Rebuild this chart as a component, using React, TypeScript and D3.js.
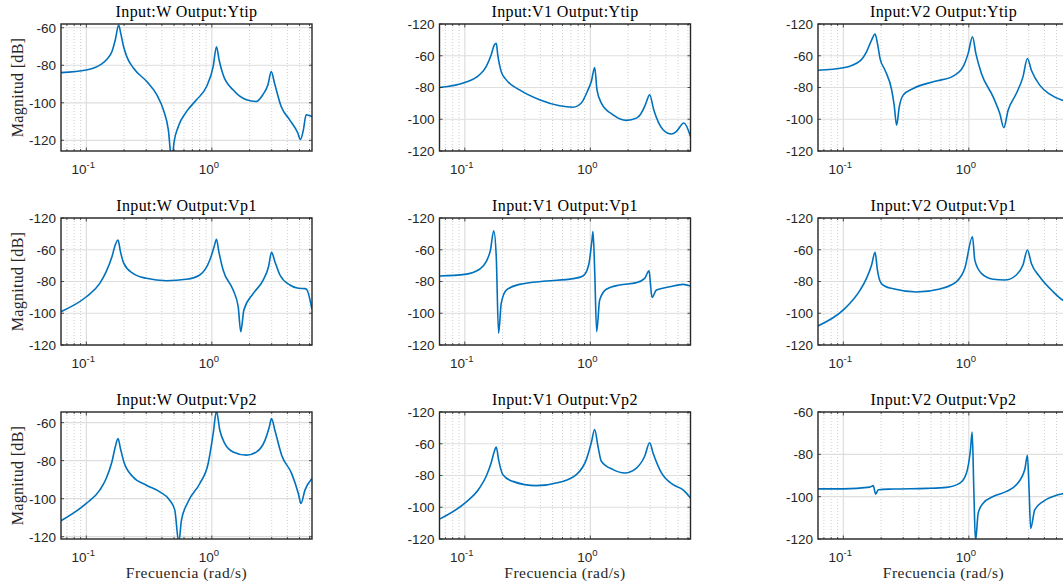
import React from 'react';
import * as d3 from 'd3';

type Pt = [number, number];

// ---- data: [frequency (rad/s), magnitude (dB)] ----
const wYtip: Pt[] = [
  [0.0628, -83.9], [0.1, -82.5], [0.129, -79.8], [0.146, -76.8], [0.16, -72.7], [0.17, -66.5],
  [0.181, -58.6], [0.188, -63], [0.198, -70], [0.21, -75.4], [0.238, -81.6], [0.303, -88.7],
  [0.364, -95.7], [0.411, -103.7], [0.45, -114.3], [0.481, -132], [0.499, -121.4], [0.541, -112.6],
  [0.63, -104.6], [0.755, -98.4], [0.908, -91.3], [1.025, -80.7], [1.089, -70.1], [1.143, -77.2],
  [1.23, -85.1], [1.476, -93.1], [1.884, -98.4], [2.26, -99.3], [2.55, -95.7], [2.8, -90.4],
  [2.975, -83.4], [3.16, -89.6], [3.57, -102], [4.16, -109], [4.84, -116.1], [5.08, -119.6],
  [5.37, -114.3], [5.64, -106.4], [6.28, -107.3],
];
const v1Ytip: Pt[] = [
  [0.0628, -80], [0.1, -76.9], [0.131, -72], [0.148, -66.8], [0.162, -59.5], [0.172, -53.2],
  [0.178, -52.1], [0.183, -59.5], [0.195, -70], [0.214, -75.2], [0.273, -81.5], [0.394, -87.7],
  [0.569, -91.5], [0.728, -92.4], [0.847, -89.8], [0.958, -81.5], [1.02, -76], [1.083, -67.4],
  [1.13, -81.5], [1.224, -89.8], [1.518, -97.2], [1.936, -100.7], [2.33, -99.3], [2.71, -91.9],
  [2.8, -89], [2.97, -84.6], [3.2, -94], [3.8, -106.6], [4.43, -109.3], [4.85, -107.7],
  [5.56, -102.4], [6.28, -110.8],
];
const v2Ytip: Pt[] = [
  [0.0628, -69.1], [0.1, -67.6], [0.136, -63.2], [0.153, -57.5], [0.168, -50.1], [0.179, -46.3],
  [0.187, -52.2], [0.196, -61.7], [0.215, -69.1], [0.243, -81.7], [0.254, -91], [0.266, -103.8],
  [0.279, -92.2], [0.3, -84.8], [0.361, -80.6], [0.52, -76.4], [0.75, -72.8], [0.901, -66.9],
  [0.988, -58.5], [1.07, -48], [1.137, -58.5], [1.26, -71.2], [1.562, -85.9], [1.765, -96.4],
  [1.9, -105.3], [2.056, -94.3], [2.39, -83.8], [2.7, -73.3], [2.93, -61.7], [3.15, -69.1],
  [3.67, -78.5], [4.41, -84.2], [5.56, -88], [6.28, -89],
];
const wVp1: Pt[] = [
  [0.0628, -99], [0.1, -89.6], [0.128, -81.2], [0.144, -73.8], [0.16, -64.4], [0.17, -57],
  [0.179, -53.9], [0.187, -61.2], [0.199, -68.6], [0.235, -74.9], [0.301, -78], [0.435, -79.5],
  [0.628, -78.6], [0.802, -75.9], [0.964, -66.5], [1.044, -58], [1.089, -53.4], [1.137, -61.2],
  [1.23, -72.8], [1.479, -85.4], [1.622, -95.9], [1.7, -111.6], [1.8, -98], [2.14, -87.5],
  [2.57, -79], [2.83, -70.7], [2.99, -61.6], [3.18, -67.5], [3.49, -75.9], [4.19, -82.2],
  [4.89, -84.3], [5.52, -84.5], [5.69, -84.9], [6.28, -97.5],
];
const v1Vp1: Pt[] = [
  [0.0628, -76.5], [0.1, -75.5], [0.131, -72.3], [0.148, -67.5], [0.16, -60.2], [0.17, -48],
  [0.178, -64.4], [0.1857, -112.6], [0.195, -93.8], [0.214, -85.4], [0.273, -81.8], [0.446, -79.7],
  [0.728, -78.2], [0.874, -76.5], [0.97, -69.6], [1.031, -53.9], [1.05, -48.6], [1.083, -72.8],
  [1.123, -111.6], [1.187, -91.7], [1.342, -84.9], [1.714, -82.2], [2.33, -80.7], [2.71, -78],
  [2.94, -73.2], [3.01, -81.2], [3.1, -90], [3.36, -85.4], [4.3, -83.3], [5.48, -81.8], [6.28, -82.8],
];
const v2Vp1: Pt[] = [
  [0.0628, -108], [0.1, -97.9], [0.136, -85.4], [0.153, -78], [0.168, -69.6], [0.179, -61.6],
  [0.187, -72.8], [0.193, -78.2], [0.2, -81], [0.215, -83], [0.25, -84.6], [0.383, -86.6],
  [0.588, -84.7], [0.798, -80.1], [0.929, -71.7], [1.07, -51.8], [1.116, -66.5], [1.26, -74.9],
  [1.562, -78.6], [1.934, -79.1], [2.39, -75.9], [2.7, -69.6], [2.93, -60.2], [3.15, -68.6],
  [3.67, -77], [4.69, -86.4], [5.6, -91.7], [6.28, -93.4],
];
const wVp2: Pt[] = [
  [0.0628, -111.6], [0.1, -102.5], [0.128, -95.5], [0.144, -89.4], [0.16, -80.6], [0.17, -72.8],
  [0.179, -68.4], [0.187, -73.6], [0.199, -80.6], [0.235, -88.5], [0.301, -92.9], [0.385, -96.4],
  [0.462, -100.8], [0.507, -106], [0.545, -123], [0.573, -111.3], [0.647, -101.6], [0.802, -92],
  [0.935, -81.5], [1.025, -65.8], [1.089, -54], [1.158, -64], [1.27, -71], [1.479, -75.4],
  [1.891, -77.1], [2.27, -75.4], [2.65, -69.3], [2.87, -62.3], [2.99, -57.9], [3.18, -64],
  [3.6, -77.1], [4.33, -86.8], [4.89, -97.3], [5.13, -102.5], [5.52, -95.5], [6.28, -89.4],
];
const v1Vp2: Pt[] = [
  [0.0628, -107.5], [0.1, -97.4], [0.131, -87.9], [0.148, -80.5], [0.162, -72.1], [0.172, -64.7],
  [0.178, -62], [0.1857, -70], [0.201, -79.5], [0.241, -83.7], [0.371, -86.4], [0.569, -84.3],
  [0.773, -79.5], [0.929, -70], [1.018, -59.4], [1.083, -51], [1.15, -61.5], [1.224, -71],
  [1.518, -76.3], [1.88, -78.4], [2.33, -75.3], [2.71, -67.9], [2.97, -59.4], [3.16, -65.8],
  [3.69, -78.4], [4.57, -85.8], [5.48, -89], [5.83, -91.1], [6.28, -94.2],
];
const v2Vp2: Pt[] = [
  [0.0628, -96.3], [0.1, -96.3], [0.163, -95.5], [0.173, -94.8], [0.181, -98.8], [0.19, -96.7],
  [0.25, -96.4], [0.46, -96.1], [0.664, -95.6], [0.848, -93.6], [0.958, -88.8], [1.031, -77.7],
  [1.063, -69.5], [1.096, -96.7], [1.13, -121], [1.187, -107.8], [1.3, -103.1], [1.562, -99.9],
  [1.994, -97.5], [2.39, -94.4], [2.79, -87.2], [2.93, -80.4], [3.02, -96.7], [3.11, -115],
  [3.35, -106.2], [3.9, -102.3], [4.69, -99.9], [5.6, -98.6], [6.28, -98.3],
];

const inputNames = ['W', 'V1', 'V2'];
const outputNames = ['Ytip', 'Vp1', 'Vp2'];
// rows = outputs, cols = inputs
const seriesGrid: Pt[][][] = [
  [wYtip, v1Ytip, v2Ytip],
  [wVp1, v1Vp1, v2Vp1],
  [wVp2, v1Vp2, v2Vp2],
];

const freqDomain: [number, number] = [2 * Math.PI / 100, 2 * Math.PI];
const xMajorTicks = [0.1, 1];
const xMajorExps = ['-1', '0'];

const yTicksA = [-60, -80, -100, -120];
const yLabelsA = ['-60', '-80', '-100', '-120'];
const yTicksB = [-40, -60, -80, -100, -120];
const yLabelsB = ['-120', '-60', '-80', '-100', '-120'];

const yDomainGrid: [number, number][][] = [
  [[-125.7, -58], [-120, -40], [-120, -40]],
  [[-120, -40], [-120, -40], [-120, -40]],
  [[-121.2, -54.4], [-120, -40], [-120, -60]],
];
const yTickGrid = [
  [[yTicksA, yLabelsA], [yTicksB, yLabelsB], [yTicksB, yLabelsB]],
  [[yTicksB, yLabelsB], [yTicksB, yLabelsB], [yTicksB, yLabelsB]],
  [[yTicksA, yLabelsA], [yTicksB, yLabelsB], [yTicksA, yLabelsA]],
] as [number[], string[]][][];

// ---- layout ----
const colX = [61, 439.5, 818];
const rowY = [24, 218, 412];
const PW = 251;
const PH = 127;

const AX = '#262626';
const SERIF = '"Liberation Serif", "Times New Roman", serif';
const SANS = '"Liberation Sans", Arial, Helvetica, sans-serif';

function Panel({ r, c }: { r: number; c: number }) {
  const x0 = colX[c];
  const y0 = rowY[r];
  const data = seriesGrid[r][c];
  const [yt, yl] = yTickGrid[r][c];
  const x = d3.scaleLog().domain(freqDomain).range([x0, x0 + PW]);
  const y = d3.scaleLinear().domain(yDomainGrid[r][c]).range([y0 + PH, y0]);
  const line = d3
    .line<Pt>()
    .x((d) => x(d[0]))
    .y((d) => y(d[1]))
    .curve(d3.curveMonotoneX);
  const minor: number[] = [];
  for (let e = -2; e <= 0; e++) {
    for (let k = 2; k <= 9; k++) {
      const v = k * Math.pow(10, e);
      if (v > freqDomain[0] && v < freqDomain[1]) minor.push(v);
    }
  }
  const clipId = `clip-${r}-${c}`;
  const cx = x0 + PW / 2;
  return (
    <g>
      <defs>
        <clipPath id={clipId}>
          <rect x={x0} y={y0} width={PW} height={PH} />
        </clipPath>
      </defs>
      <rect x={x0} y={y0} width={PW} height={PH} fill="#fff" />
      {minor.map((v) => (
        <line key={'mg' + v} x1={x(v)} x2={x(v)} y1={y0} y2={y0 + PH} stroke="#c4c4c4" strokeWidth={0.8} strokeDasharray="1,2" />
      ))}
      {xMajorTicks.map((v) => (
        <line key={'Mg' + v} x1={x(v)} x2={x(v)} y1={y0} y2={y0 + PH} stroke="#dedede" strokeWidth={1.2} />
      ))}
      {yt.map((v) => (
        <line key={'yg' + v} x1={x0} x2={x0 + PW} y1={y(v)} y2={y(v)} stroke="#dedede" strokeWidth={1.2} />
      ))}
      <path d={line(data) || ''} fill="none" stroke="#0072BD" strokeWidth={1.6} clipPath={`url(#${clipId})`} strokeLinejoin="round" />
      {minor.map((v) => (
        <g key={'mt' + v}>
          <line x1={x(v)} x2={x(v)} y1={y0 + PH} y2={y0 + PH - 2} stroke={AX} strokeWidth={0.8} />
          <line x1={x(v)} x2={x(v)} y1={y0} y2={y0 + 2} stroke={AX} strokeWidth={0.8} />
        </g>
      ))}
      {xMajorTicks.map((v) => (
        <g key={'Mt' + v}>
          <line x1={x(v)} x2={x(v)} y1={y0 + PH} y2={y0 + PH - 3.5} stroke={AX} strokeWidth={0.8} />
          <line x1={x(v)} x2={x(v)} y1={y0} y2={y0 + 3.5} stroke={AX} strokeWidth={0.8} />
        </g>
      ))}
      {yt.map((v) => (
        <g key={'yt' + v}>
          <line x1={x0} x2={x0 + 3} y1={y(v)} y2={y(v)} stroke={AX} strokeWidth={0.8} />
          <line x1={x0 + PW} x2={x0 + PW - 3} y1={y(v)} y2={y(v)} stroke={AX} strokeWidth={0.8} />
        </g>
      ))}
      <rect x={x0} y={y0} width={PW} height={PH} fill="none" stroke={AX} strokeWidth={1.4} />
      {yt.map((v, i) => (
        <text key={'yl' + v} x={x0 - 5} y={y(v)} dy="0.36em" textAnchor="end" fontFamily={SANS} fontSize={13.5} fill={AX}>
          {yl[i]}
        </text>
      ))}
      {xMajorTicks.map((v, i) => (
        <text key={'xl' + v} x={x(v) - 3} y={y0 + PH + 22.5} textAnchor="middle" fontFamily={SANS} fontSize={13.5} fill={AX}>
          10
          <tspan dy={-6} fontSize={9.5}>{xMajorExps[i]}</tspan>
        </text>
      ))}
      <text x={cx} y={y0 - 7.5} textAnchor="middle" fontFamily={SERIF} fontSize={16} letterSpacing={0.4} fill="#000">
        {`Input:${inputNames[c]} Output:${outputNames[r]}`}
      </text>
      {c === 0 && (
        <text
          transform={`translate(23,${y0 + PH / 2}) rotate(-90)`}
          textAnchor="middle"
          fontFamily={SERIF}
          fontSize={16}
          letterSpacing={0.3}
          fill={AX}
        >
          Magnitud [dB]
        </text>
      )}
      {r === 2 && (
        <text x={cx} y={y0 + PH + 39} textAnchor="middle" fontFamily={SERIF} fontSize={15.5} letterSpacing={0.5} fill={AX}>
          Frecuencia (rad/s)
        </text>
      )}
    </g>
  );
}

export default function App() {
  const cells: [number, number][] = [];
  for (let r = 0; r < 3; r++) for (let c = 0; c < 3; c++) cells.push([r, c]);
  return (
    <svg
      width={1063}
      height={588}
      style={{ position: 'absolute', left: 0, top: 0, background: '#fff' }}
    >
      <rect x={0} y={0} width={1063} height={588} fill="#fff" />
      {cells.map(([r, c]) => (
        <Panel key={`${r}-${c}`} r={r} c={c} />
      ))}
    </svg>
  );
}
